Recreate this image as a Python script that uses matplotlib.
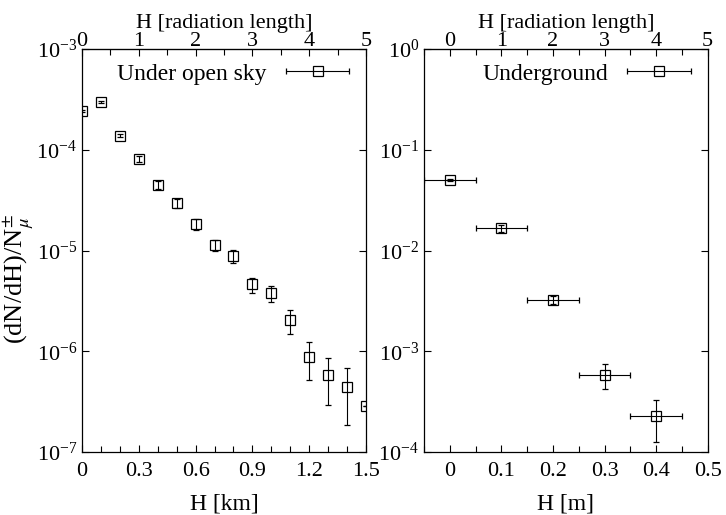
import matplotlib
matplotlib.use("Agg")
import matplotlib.pyplot as plt
from matplotlib.container import ErrorbarContainer
from matplotlib.legend_handler import HandlerErrorbar
from matplotlib.ticker import MultipleLocator, LogLocator, NullLocator

plt.rcParams['font.family'] = ['Liberation Serif', 'DejaVu Serif']
plt.rcParams['mathtext.fontset'] = 'stix'
plt.rcParams['font.size'] = 16

# Under open sky (H in km)
sky_h = [0.0, 0.1, 0.2, 0.3, 0.4, 0.5, 0.6, 0.7, 0.8, 0.9, 1.0, 1.1, 1.2, 1.3, 1.4, 1.5]
sky_y = [2.44e-4, 3.0e-4, 1.38e-4, 8.1e-5, 4.47e-5, 2.94e-5, 1.83e-5, 1.13e-5,
         8.8e-6, 4.6e-6, 3.76e-6, 2.03e-6, 8.7e-7, 5.8e-7, 4.37e-7, 2.88e-7]
sky_err = [5.6e-6, 6.9e-6, 4.8e-6, 5.7e-6, 4.3e-6, 2.8e-6, 2.2e-6, 1.36e-6,
           1.3e-6, 0.78e-6, 0.7e-6, 0.55e-6, 0.355e-6, 0.285e-6, 0.25e-6, 0.0]

# Underground (H in m)
ug_h = [0.0, 0.1, 0.2, 0.3, 0.4]
ug_y = [5.0e-2, 1.66e-2, 3.23e-3, 5.8e-4, 2.27e-4]
ug_yerr = [1.2e-3, 1.2e-3, 3.0e-4, 1.6e-4, 1.0e-4]
ug_xerr = [0.05, 0.05, 0.05, 0.05, 0.05]

fig = plt.figure(figsize=(7.26, 5.15), dpi=100)
ax1 = fig.add_axes([0.1129, 0.1223, 0.3912, 0.7825])
ax2 = fig.add_axes([0.584, 0.1223, 0.3908, 0.7825])

style = dict(fmt='s', mfc='none', mec='k', ms=7, mew=0.9, ecolor='k',
             elinewidth=0.8, capsize=2.5, capthick=0.8)

eb1 = ax1.errorbar(sky_h, sky_y, yerr=sky_err, **style)
eb2 = ax2.errorbar(ug_h, ug_y, xerr=ug_xerr, yerr=ug_yerr, **style)

for ax in (ax1, ax2):
    ax.set_yscale('log')
    ax.yaxis.set_major_locator(LogLocator(base=10, numticks=10))
    ax.yaxis.set_minor_locator(NullLocator())
    ax.tick_params(which='both', direction='in', top=False, right=True, labelsize=16)
    ax.tick_params(axis='x', pad=7.5)
    ax.tick_params(which='major', length=5, width=0.8)
    ax.tick_params(which='minor', length=4, width=0.8)
    for s in ax.spines.values():
        s.set_linewidth(0.9)

ax1.set_xlim(0, 1.5)
ax1.set_ylim(1e-7, 1e-3)
ax1.xaxis.set_minor_locator(MultipleLocator(0.1))
ax1.set_xticks([0, 0.3, 0.6, 0.9, 1.2, 1.5], ['0', '0.3', '0.6', '0.9', '1.2', '1.5'])
ax1.set_xlabel('H [km]', labelpad=9, fontsize=17)
ax1.set_ylabel(r'(dN/dH)/N$_{\mu}^{\pm}$', fontsize=19)
ax1.yaxis.set_label_coords(-0.162, 0.43)

ax2.set_xlim(-0.05, 0.5)
ax2.set_ylim(1e-4, 1)
ax2.xaxis.set_minor_locator(MultipleLocator(0.05))
ax2.set_xticks([0, 0.1, 0.2, 0.3, 0.4, 0.5], ['0', '0.1', '0.2', '0.3', '0.4', '0.5'])
ax2.set_xlabel('H [m]', labelpad=9, fontsize=17)

# top axes in radiation length
top1 = ax1.secondary_xaxis('top', functions=(lambda x: x * 5 / 1.5, lambda x: x * 1.5 / 5))
top2 = ax2.secondary_xaxis('top', functions=(lambda x: x * 10, lambda x: x / 10))
for top in (top1, top2):
    top.set_xticks([0, 1, 2, 3, 4, 5])
    top.xaxis.set_minor_locator(MultipleLocator(0.5))
    top.tick_params(which='both', direction='in', labelsize=16, pad=-1.5)
    top.tick_params(which='major', length=5, width=0.8)
    top.tick_params(which='minor', length=4, width=0.8)
    top.set_xlabel('H [radiation length]', labelpad=3)

# legends: gnuplot-style sample with a horizontal error bar after the text
hmap = {ErrorbarContainer: HandlerErrorbar(xerr_size=1.35)}
for ax, eb, label in ((ax1, eb1, 'Under open sky'), (ax2, eb2, 'Underground')):
    proxy = ErrorbarContainer(eb.lines, has_xerr=True, has_yerr=False, label=label)
    ax.legend(handles=[proxy], loc='upper right', frameon=False, markerfirst=False,
              handlelength=2.9, handletextpad=0.7, borderaxespad=0.2,
              fontsize=17, handler_map=hmap)

fig.savefig('out.png', dpi=100)
